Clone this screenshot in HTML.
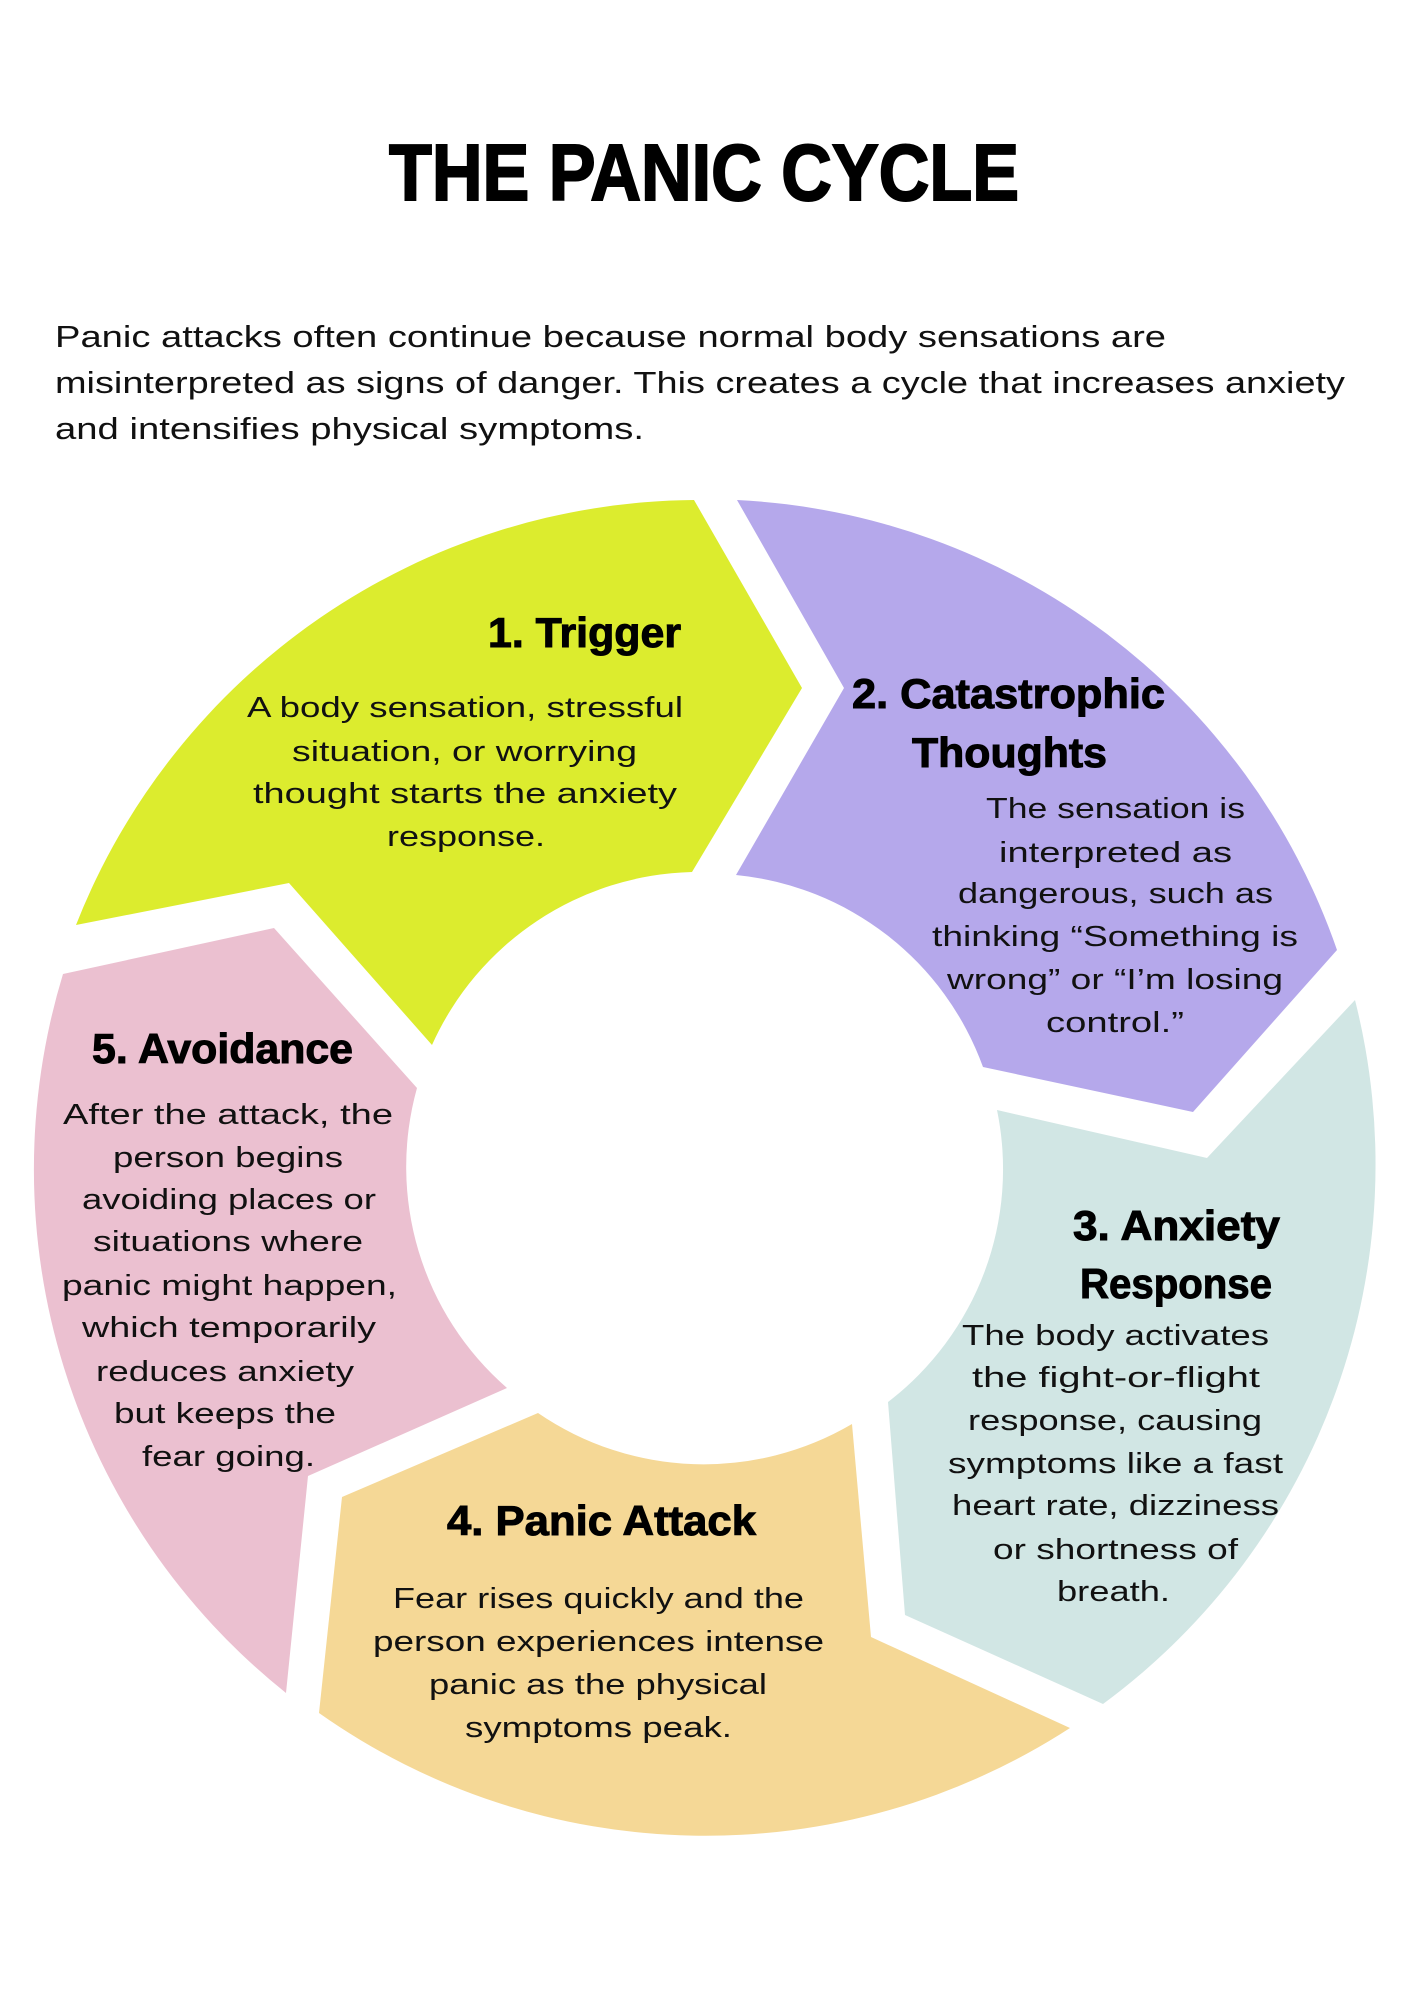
<!DOCTYPE html>
<html>
<head>
<meta charset="utf-8">
<style>
  html, body { margin: 0; padding: 0; background: #ffffff; }
  svg { display: block; }
  .title { font-family: "Liberation Sans", Arial, sans-serif; font-weight: bold; font-size: 80px; fill: #000; stroke: #000; stroke-width: 2; }
  .para { font-family: "Liberation Sans", Arial, sans-serif; font-size: 31px; fill: #111; }
  .head { font-family: "Liberation Sans", Arial, sans-serif; font-weight: bold; font-size: 42px; fill: #000; stroke: #000; stroke-width: 1; }
  .body { font-family: "Liberation Sans", Arial, sans-serif; font-size: 29px; fill: #111; }
</style>
</head>
<body>
<svg width="1414" height="2000" viewBox="0 0 1414 2000" xmlns="http://www.w3.org/2000/svg">
  <rect x="0" y="0" width="1414" height="2000" fill="#ffffff"/>

  <!-- Title -->
  <text class="title" x="389" y="200" textLength="630" lengthAdjust="spacingAndGlyphs">THE PANIC CYCLE</text>

  <!-- Intro paragraph -->
  <text class="para" x="55" y="347" textLength="1111" lengthAdjust="spacingAndGlyphs">Panic attacks often continue because normal body sensations are</text>
  <text class="para" x="55" y="393" textLength="1290" lengthAdjust="spacingAndGlyphs">misinterpreted as signs of danger. This creates a cycle that increases anxiety</text>
  <text class="para" x="55" y="439" textLength="589" lengthAdjust="spacingAndGlyphs">and intensifies physical symptoms.</text>

  <!-- Segments -->
  <!-- Green: Trigger -->
  <path fill="#dcec2e" d="M76,925 A670,670 0 0 1 694,500 L802,688 L692,872 A293,293 0 0 0 432,1045 L289,883 Z"/>
  <!-- Purple: Catastrophic Thoughts -->
  <path fill="#b5a8eb" d="M737,500 A670,670 0 0 1 1337,950 L1193,1112 L983,1067 A293,293 0 0 0 736,875 L844,688 Z"/>
  <!-- Teal: Anxiety Response -->
  <path fill="#d1e6e4" d="M1355,1000 A670,670 0 0 1 1103,1704 L905,1615 L888,1402 A293,293 0 0 0 997,1110 L1207,1158 Z"/>
  <!-- Yellow: Panic Attack -->
  <path fill="#f5d896" d="M1070,1728 A670,670 0 0 1 319,1713 L342,1497 L538,1413 A293,293 0 0 0 852,1424 L871,1637 Z"/>
  <!-- Pink: Avoidance -->
  <path fill="#ebc0d0" d="M286,1693 A670,670 0 0 1 63,974 L274,928 L417,1088 A293,293 0 0 0 507,1388 L308,1476 Z"/>

  <!-- 1. Trigger -->
  <text class="head" x="488" y="647" textLength="193" lengthAdjust="spacingAndGlyphs">1. Trigger</text>
  <text class="body" x="247" y="717" textLength="436" lengthAdjust="spacingAndGlyphs">A body sensation, stressful</text>
  <text class="body" x="292" y="761" textLength="345" lengthAdjust="spacingAndGlyphs">situation, or worrying</text>
  <text class="body" x="253" y="803" textLength="424" lengthAdjust="spacingAndGlyphs">thought starts the anxiety</text>
  <text class="body" x="387" y="846" textLength="158" lengthAdjust="spacingAndGlyphs">response.</text>

  <!-- 2. Catastrophic Thoughts -->
  <text class="head" x="852" y="708" textLength="313" lengthAdjust="spacingAndGlyphs">2. Catastrophic</text>
  <text class="head" x="912" y="767" textLength="195" lengthAdjust="spacingAndGlyphs">Thoughts</text>
  <text class="body" x="986" y="818" textLength="259" lengthAdjust="spacingAndGlyphs">The sensation is</text>
  <text class="body" x="999" y="862" textLength="233" lengthAdjust="spacingAndGlyphs">interpreted as</text>
  <text class="body" x="958" y="903" textLength="315" lengthAdjust="spacingAndGlyphs">dangerous, such as</text>
  <text class="body" x="932" y="946" textLength="366" lengthAdjust="spacingAndGlyphs">thinking “Something is</text>
  <text class="body" x="947" y="989" textLength="336" lengthAdjust="spacingAndGlyphs">wrong” or “I’m losing</text>
  <text class="body" x="1046" y="1032" textLength="138" lengthAdjust="spacingAndGlyphs">control.”</text>

  <!-- 3. Anxiety Response -->
  <text class="head" x="1073" y="1240" textLength="207" lengthAdjust="spacingAndGlyphs">3. Anxiety</text>
  <text class="head" x="1080" y="1298" textLength="192" lengthAdjust="spacingAndGlyphs">Response</text>
  <text class="body" x="962" y="1345" textLength="307" lengthAdjust="spacingAndGlyphs">The body activates</text>
  <text class="body" x="972" y="1387" textLength="288" lengthAdjust="spacingAndGlyphs">the fight-or-flight</text>
  <text class="body" x="968" y="1430" textLength="294" lengthAdjust="spacingAndGlyphs">response, causing</text>
  <text class="body" x="948" y="1473" textLength="335" lengthAdjust="spacingAndGlyphs">symptoms like a fast</text>
  <text class="body" x="952" y="1515" textLength="327" lengthAdjust="spacingAndGlyphs">heart rate, dizziness</text>
  <text class="body" x="993" y="1559" textLength="245" lengthAdjust="spacingAndGlyphs">or shortness of</text>
  <text class="body" x="1057" y="1601" textLength="113" lengthAdjust="spacingAndGlyphs">breath.</text>

  <!-- 4. Panic Attack -->
  <text class="head" x="447" y="1535" textLength="309" lengthAdjust="spacingAndGlyphs">4. Panic Attack</text>
  <text class="body" x="393" y="1608" textLength="411" lengthAdjust="spacingAndGlyphs">Fear rises quickly and the</text>
  <text class="body" x="373" y="1651" textLength="451" lengthAdjust="spacingAndGlyphs">person experiences intense</text>
  <text class="body" x="429" y="1694" textLength="338" lengthAdjust="spacingAndGlyphs">panic as the physical</text>
  <text class="body" x="465" y="1737" textLength="267" lengthAdjust="spacingAndGlyphs">symptoms peak.</text>

  <!-- 5. Avoidance -->
  <text class="head" x="92" y="1063" textLength="261" lengthAdjust="spacingAndGlyphs">5. Avoidance</text>
  <text class="body" x="63" y="1124" textLength="330" lengthAdjust="spacingAndGlyphs">After the attack, the</text>
  <text class="body" x="113" y="1167" textLength="230" lengthAdjust="spacingAndGlyphs">person begins</text>
  <text class="body" x="82" y="1209" textLength="294" lengthAdjust="spacingAndGlyphs">avoiding places or</text>
  <text class="body" x="93" y="1251" textLength="270" lengthAdjust="spacingAndGlyphs">situations where</text>
  <text class="body" x="62" y="1295" textLength="335" lengthAdjust="spacingAndGlyphs">panic might happen,</text>
  <text class="body" x="82" y="1337" textLength="294" lengthAdjust="spacingAndGlyphs">which temporarily</text>
  <text class="body" x="96" y="1381" textLength="258" lengthAdjust="spacingAndGlyphs">reduces anxiety</text>
  <text class="body" x="114" y="1423" textLength="222" lengthAdjust="spacingAndGlyphs">but keeps the</text>
  <text class="body" x="142" y="1466" textLength="173" lengthAdjust="spacingAndGlyphs">fear going.</text>
</svg>
</body>
</html>
